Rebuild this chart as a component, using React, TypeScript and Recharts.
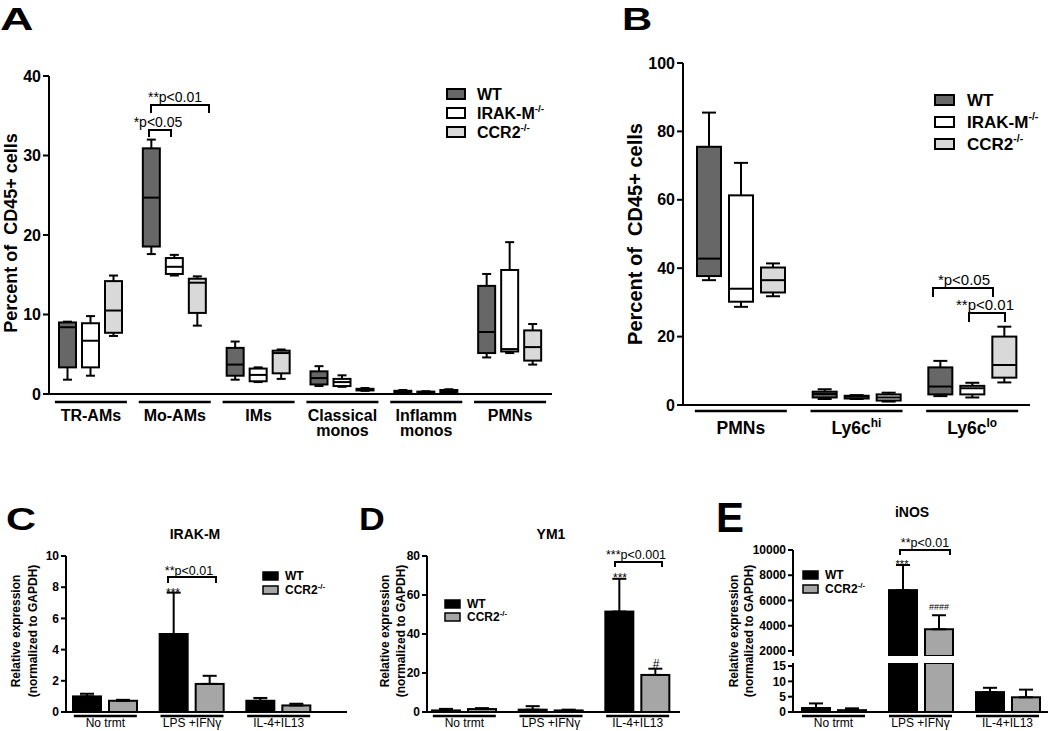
import React from 'react';
import { BarChart, Bar, XAxis, YAxis, ErrorBar } from 'recharts';

const FONT = '"Liberation Sans", Arial, Helvetica, sans-serif';

// ---- Panel A: percent of CD45+ cells, box plots [min, q1, median, q3, max]
const groupsA = ['TR-AMs', 'Mo-AMs', 'IMs', 'Classical\nmonos', 'Inflamm\nmonos', 'PMNs'];
const wtA = [
  [1.8, 3.35, 8.4, 9.0, 9.1],
  [17.6, 18.55, 24.7, 30.9, 32.0],
  [1.8, 2.3, 3.7, 5.8, 6.6],
  [1.0, 1.2, 2.0, 2.85, 3.5],
  [0.15, 0.2, 0.3, 0.4, 0.5],
  [4.6, 5.15, 7.8, 13.6, 15.1],
];
const irakA = [
  [2.3, 3.35, 6.7, 8.9, 9.8],
  [14.9, 15.1, 16.0, 17.1, 17.5],
  [1.5, 1.6, 2.4, 3.2, 3.35],
  [0.9, 1.0, 1.5, 1.9, 2.35],
  [0.1, 0.15, 0.2, 0.3, 0.35],
  [5.15, 5.35, 5.65, 15.6, 19.1],
];
const ccr2A = [
  [7.3, 7.7, 10.5, 14.2, 14.9],
  [8.6, 10.2, 14.0, 14.5, 14.8],
  [1.9, 2.6, 5.15, 5.45, 5.6],
  [0.4, 0.45, 0.6, 0.65, 0.75],
  [0.15, 0.2, 0.3, 0.5, 0.6],
  [3.7, 4.2, 5.9, 8.0, 8.8],
];
const ticksA = [0, 10, 20, 30, 40];

// ---- Panel B
const groupsB = ['PMNs', 'Ly6c^hi', 'Ly6c^lo'];
const wtB = [
  [36.5, 37.7, 42.8, 75.5, 85.5],
  [1.75, 2.2, 3.2, 3.9, 4.6],
  [2.6, 3.1, 5.4, 11.0, 12.9],
];
const irakB = [
  [28.7, 30.2, 34.0, 61.3, 70.8],
  [1.75, 1.9, 2.4, 2.7, 2.9],
  [2.2, 3.1, 4.9, 5.6, 6.5],
];
const ccr2B = [
  [31.8, 32.9, 36.5, 40.2, 41.4],
  [1.0, 1.3, 2.2, 3.1, 3.6],
  [6.6, 8.0, 11.7, 20.0, 22.9],
];
const ticksB = [0, 20, 40, 60, 80, 100];

// ---- Panels C-E: relative expression, mean and SD
const treatments = ['No trmt', 'LPS +IFNγ', 'IL-4+IL13'];
const wtC = [1.0, 5.0, 0.72];
const wtCErr = [0.17, 2.65, 0.18];
const ccrC = [0.72, 1.8, 0.42];
const ccrCErr = [0.06, 0.52, 0.11];
const ticksC = [0, 2, 4, 6, 8, 10];

const wtD = [0.8, 1.2, 51.5];
const wtDErr = [0.8, 1.8, 16.8];
const ccrD = [1.5, 0.8, 19.0];
const ccrDErr = [0.5, 0.4, 3.2];
const ticksD = [0, 20, 40, 60, 80];

const wtE = [1.3, 6820, 6.5];
const wtEErr = [1.5, 1990, 1.4];
const ccrE = [0.6, 3720, 4.8];
const ccrEErr = [0.6, 1110, 2.5];
const ticksEHigh = [2000, 4000, 6000, 8000, 10000];
const ticksELow = [0, 5, 10, 15];
const E_LOW_MAX = 16;
const E_HIGH_MIN = 1600;

const rowsA = groupsA.map((cat, i) => ({ cat, wt: wtA[i], irak: irakA[i], ccr2: ccr2A[i] }));
const rowsB = groupsB.map((cat, i) => ({ cat, wt: wtB[i], irak: irakB[i], ccr2: ccr2B[i] }));
const rowsC = treatments.map((cat, i) => ({
  cat, wt: wtC[i], ccr: ccrC[i], wtErr: [0, wtCErr[i]], ccrErr: [0, ccrCErr[i]],
}));
const rowsD = treatments.map((cat, i) => ({
  cat, wt: wtD[i], ccr: ccrD[i], wtErr: [0, wtDErr[i]], ccrErr: [0, ccrDErr[i]],
}));
const rowsELow = treatments.map((cat, i) => ({
  cat,
  wt: Math.min(wtE[i], E_LOW_MAX),
  ccr: Math.min(ccrE[i], E_LOW_MAX),
  wtErr: wtE[i] > E_LOW_MAX ? null : [0, wtEErr[i]],
  ccrErr: ccrE[i] > E_LOW_MAX ? null : [0, ccrEErr[i]],
}));
const rowsEHigh = treatments.map((cat, i) => ({
  cat,
  wt: wtE[i] > E_HIGH_MIN ? wtE[i] : null,
  ccr: ccrE[i] > E_HIGH_MIN ? ccrE[i] : null,
  wtErr: wtE[i] > E_HIGH_MIN ? [0, wtEErr[i]] : null,
  ccrErr: ccrE[i] > E_HIGH_MIN ? [0, ccrEErr[i]] : null,
}));

const WT_BOX = '#676767';
const IRAK_BOX = '#ffffff';
const CCR2_BOX = '#d9d9d9';
const WT_BAR = '#000000';
const CCR2_BAR = '#a6a6a6';

const axisStyle = { stroke: '#000', strokeWidth: 2 };

const boxShape = (key: string, fill: string, cap: number) => (p: any) => {
  const s = p.payload && p.payload[key];
  if (!s) return <g />;
  const [mn, q1, md, q3, mx] = s;
  const top = Math.min(p.y, p.y + p.height);
  const h = Math.abs(p.height);
  const k = mx === mn ? 0 : h / (mx - mn);
  const Y = (v: number) => top + (mx - v) * k;
  const cx = p.x + p.width / 2;
  const st = { stroke: '#000', strokeWidth: 2 };
  return (
    <g>
      <line x1={cx} x2={cx} y1={Y(mx)} y2={Y(mn)} {...st} />
      <line x1={cx - cap} x2={cx + cap} y1={Y(mx)} y2={Y(mx)} {...st} />
      <line x1={cx - cap} x2={cx + cap} y1={Y(mn)} y2={Y(mn)} {...st} />
      <rect x={p.x} y={Y(q3)} width={p.width} height={Math.max(Y(q1) - Y(q3), 1)} fill={fill} {...st} />
      <line x1={p.x} x2={p.x + p.width} y1={Y(md)} y2={Y(md)} {...st} />
    </g>
  );
};

const barShape = (key: string, fill: string) => (p: any) => {
  if (!p.payload || p.payload[key] == null || !(p.height > 0)) return <g />;
  return <rect x={p.x} y={p.y} width={p.width} height={p.height} fill={fill} stroke="#000" strokeWidth={2} />;
};

const CategoryTick = (props: any) => {
  const { x, payload, axisY, lineW, lineDy, size, weight, firstDy, lineGap } = props;
  const [main, sup] = String(payload.value).split('^');
  const lines = main.split('\n');
  return (
    <g>
      <line x1={x - lineW / 2} x2={x + lineW / 2} y1={axisY + lineDy} y2={axisY + lineDy} stroke="#000" strokeWidth={2.5} />
      {lines.map((l: string, i: number) => (
        <text key={i} x={x} y={axisY + firstDy + i * lineGap} textAnchor="middle" fontFamily={FONT}
          fontSize={size} fontWeight={weight} fill="#000">
          {l}
          {sup && i === lines.length - 1 ? <tspan fontSize={size * 0.68} dy={-size * 0.42}>{sup}</tspan> : null}
        </text>
      ))}
    </g>
  );
};

const yTick = (size: number) => ({ fill: '#000', fontSize: size, fontWeight: 'bold', fontFamily: FONT });

const Sup = ({ children, size, dy }: any) => <tspan fontSize={size} dy={dy}>{children}</tspan>;

const Legend3 = ({ x, ys, tx, size, w, h }: any) => {
  const items = [
    { fill: WT_BOX, label: 'WT', sup: '' },
    { fill: IRAK_BOX, label: 'IRAK-M', sup: '-/-' },
    { fill: CCR2_BOX, label: 'CCR2', sup: '-/-' },
  ];
  return (
    <g>
      {items.map((it, i) => (
        <g key={it.label}>
          <rect x={x} y={ys[i] - h - 1} width={w} height={h} fill={it.fill} stroke="#000" strokeWidth={2} />
          <text x={tx} y={ys[i]} fontSize={size} fontWeight="bold">
            {it.label}
            {it.sup ? <Sup size={size * 0.62} dy={-size * 0.45}>{it.sup}</Sup> : null}
          </text>
        </g>
      ))}
    </g>
  );
};

const Legend2 = ({ x, ys, tx }: any) => (
  <g>
    <rect x={x} y={ys[0] - 8} width={15} height={8} fill={WT_BAR} stroke="#000" strokeWidth={1.5} />
    <text x={tx} y={ys[0]} fontSize={12} fontWeight="bold">WT</text>
    <rect x={x} y={ys[1] - 8} width={15} height={8} fill={CCR2_BAR} stroke="#000" strokeWidth={1.5} />
    <text x={tx} y={ys[1]} fontSize={12} fontWeight="bold">
      CCR2<Sup size={8} dy={-5}>-/-</Sup>
    </text>
  </g>
);

const Bracket = ({ x1, x2, y, drop, label, tx, ty, size }: any) => (
  <g>
    <path d={`M${x1} ${y + drop} V${y} H${x2} V${y + drop}`} fill="none" stroke="#000" strokeWidth={2} />
    <text x={tx} y={ty} fontSize={size} textAnchor="middle">{label}</text>
  </g>
);

const Overlay = () => (
  <svg width={1050} height={731} style={{ position: 'absolute', left: 0, top: 0, pointerEvents: 'none' }}
    fontFamily={FONT} fill="#000">
    {/* panel letters */}
    <text transform="translate(0,30) scale(1.45,1)" fontSize={32} fontWeight="bold">A</text>
    <text transform="translate(622,30) scale(1.35,1)" fontSize={31} fontWeight="bold">B</text>
    <text transform="translate(6,530) scale(1.3,1)" fontSize={32} fontWeight="bold">C</text>
    <text transform="translate(359,530) scale(1.15,1)" fontSize={31} fontWeight="bold">D</text>
    <text x={716} y={532} fontSize={42} fontWeight="bold">E</text>

    {/* titles */}
    <text x={195} y={539} fontSize={14} fontWeight="bold" textAnchor="middle">IRAK-M</text>
    <text x={551} y={539} fontSize={14} fontWeight="bold" textAnchor="middle">YM1</text>
    <text x={912} y={517} fontSize={14} fontWeight="bold" textAnchor="middle">iNOS</text>

    {/* y axis titles */}
    <text transform="translate(17,233) rotate(-90)" fontSize={18} fontWeight="bold" textAnchor="middle"
      style={{ whiteSpace: 'pre' }}>Percent of  CD45+ cells</text>
    <text transform="translate(642,234) rotate(-90)" fontSize={20} fontWeight="bold" textAnchor="middle"
      style={{ whiteSpace: 'pre' }}>Percent of  CD45+ cells</text>
    {[[20, 37], [389, 405], [738, 753]].map(([a, b], i) => (
      <g key={i}>
        <text transform={`translate(${a},631) rotate(-90)`} fontSize={12} fontWeight="bold" textAnchor="middle">Relative expression</text>
        <text transform={`translate(${b},631) rotate(-90)`} fontSize={12} fontWeight="bold" textAnchor="middle">(normalized to GAPDH)</text>
      </g>
    ))}

    {/* legends */}
    <Legend3 x={447} ys={[100, 119, 138]} tx={477} size={16} w={18} h={10} />
    <Legend3 x={935} ys={[106, 128, 150]} tx={967} size={17} w={19} h={10} />
    <Legend2 x={263} ys={[580, 594]} tx={285} />
    <Legend2 x={445} ys={[608, 621]} tx={467} />
    <Legend2 x={803} ys={[579, 593]} tx={825} />

    {/* significance */}
    <Bracket x1={149} x2={171} y={130} drop={7} label="*p<0.05" tx={158} ty={127} size={14} />
    <Bracket x1={151} x2={209} y={105} drop={8} label="**p<0.01" tx={175} ty={102} size={14} />
    <Bracket x1={933} x2={993} y={288} drop={9} label="*p<0.05" tx={964} ty={285} size={15} />
    <Bracket x1={969} x2={1005} y={313} drop={9} label="**p<0.01" tx={985} ty={310} size={15} />
    <Bracket x1={168} x2={216} y={577} drop={6} label="**p<0.01" tx={189} ty={575} size={12.5} />
    <Bracket x1={615} x2={662} y={562} drop={5} label="***p<0.001" tx={636} ty={559} size={12.5} />
    <Bracket x1={900} x2={950} y={550} drop={5} label="**p<0.01" tx={925} ty={547} size={12.5} />
    <text x={173} y={597} fontSize={12} textAnchor="middle">***</text>
    <text x={620} y={582} fontSize={12} textAnchor="middle">***</text>
    <text x={656} y={668} fontSize={12} textAnchor="middle">#</text>
    <text x={902} y={568} fontSize={11} textAnchor="middle">***</text>
    <text x={939} y={610} fontSize={9} textAnchor="middle">####</text>
  </svg>
);

export default function App() {
  const tickA = (p: any) => (
    <CategoryTick {...p} axisY={394} lineW={72} lineDy={8} size={16} weight="bold" firstDy={27} lineGap={15} />
  );
  const tickB = (p: any) => (
    <CategoryTick {...p} axisY={405} lineW={92} lineDy={6} size={17.5} weight="bold" firstDy={29} lineGap={16} />
  );
  const tickSmall = (p: any) => (
    <CategoryTick {...p} axisY={232} lineW={63} lineDy={4} size={12} weight="normal" firstDy={15} lineGap={14} />
  );

  return (
    <div style={{ position: 'absolute', left: 0, top: 0, width: 1050, height: 731, background: '#fff', overflow: 'hidden', fontFamily: FONT }}>
      {/* A */}
      <div style={{ position: 'absolute', left: 0, top: 0 }}>
        <BarChart width={560} height={450} data={rowsA} margin={{ top: 76, right: 8, bottom: 0, left: 0 }} barGap={6}>
          <XAxis dataKey="cat" interval={0} height={56} axisLine={axisStyle} tickLine={false} tick={tickA} />
          <YAxis domain={[0, 40]} ticks={ticksA} interval={0} width={49} axisLine={axisStyle} tickLine={axisStyle} tickSize={6}
            tick={yTick(16)} />
          <Bar dataKey={(r: any) => [r.wt[0], r.wt[4]]} barSize={17} shape={boxShape('wt', WT_BOX, 4.5)} isAnimationActive={false} />
          <Bar dataKey={(r: any) => [r.irak[0], r.irak[4]]} barSize={17} shape={boxShape('irak', IRAK_BOX, 4.5)} isAnimationActive={false} />
          <Bar dataKey={(r: any) => [r.ccr2[0], r.ccr2[4]]} barSize={17} shape={boxShape('ccr2', CCR2_BOX, 4.5)} isAnimationActive={false} />
        </BarChart>
      </div>

      {/* B */}
      <div style={{ position: 'absolute', left: 620, top: 0 }}>
        <BarChart width={420} height={450} data={rowsB} margin={{ top: 63, right: 10, bottom: 0, left: 0 }} barGap={8}>
          <XAxis dataKey="cat" interval={0} height={45} axisLine={axisStyle} tickLine={false} tick={tickB} />
          <YAxis domain={[0, 100]} ticks={ticksB} interval={0} width={63} axisLine={axisStyle} tickLine={axisStyle} tickSize={6}
            tick={yTick(16)} />
          <Bar dataKey={(r: any) => [r.wt[0], r.wt[4]]} barSize={24} shape={boxShape('wt', WT_BOX, 7)} isAnimationActive={false} />
          <Bar dataKey={(r: any) => [r.irak[0], r.irak[4]]} barSize={24} shape={boxShape('irak', IRAK_BOX, 7)} isAnimationActive={false} />
          <Bar dataKey={(r: any) => [r.ccr2[0], r.ccr2[4]]} barSize={24} shape={boxShape('ccr2', CCR2_BOX, 7)} isAnimationActive={false} />
        </BarChart>
      </div>

      {/* C */}
      <div style={{ position: 'absolute', left: 0, top: 480 }}>
        <BarChart width={350} height={251} data={rowsC} margin={{ top: 76, right: 3, bottom: 0, left: 0 }} barGap={8}>
          <XAxis dataKey="cat" interval={0} height={19} axisLine={axisStyle} tickLine={false} tick={tickSmall}
            padding={{ left: -4, right: 25 }} />
          <YAxis domain={[0, 10]} ticks={ticksC} interval={0} width={66} axisLine={axisStyle} tickLine={axisStyle} tickSize={5}
            tick={yTick(12)} />
          <Bar dataKey="wt" barSize={28} shape={barShape('wt', WT_BAR)} isAnimationActive={false}>
            <ErrorBar dataKey="wtErr" width={7} stroke="#000" strokeWidth={2} direction="y" />
          </Bar>
          <Bar dataKey="ccr" barSize={28} shape={barShape('ccr', CCR2_BAR)} isAnimationActive={false}>
            <ErrorBar dataKey="ccrErr" width={7} stroke="#000" strokeWidth={2} direction="y" />
          </Bar>
        </BarChart>
      </div>

      {/* D */}
      <div style={{ position: 'absolute', left: 350, top: 480 }}>
        <BarChart width={350} height={251} data={rowsD} margin={{ top: 76, right: 20, bottom: 0, left: 0 }} barGap={8}>
          <XAxis dataKey="cat" interval={0} height={19} axisLine={axisStyle} tickLine={false} tick={tickSmall}
            padding={{ left: -6, right: -1 }} />
          <YAxis domain={[0, 80]} ticks={ticksD} interval={0} width={77} axisLine={axisStyle} tickLine={axisStyle} tickSize={5}
            tick={yTick(12)} />
          <Bar dataKey="wt" barSize={28} shape={barShape('wt', WT_BAR)} isAnimationActive={false}>
            <ErrorBar dataKey="wtErr" width={7} stroke="#000" strokeWidth={2} direction="y" />
          </Bar>
          <Bar dataKey="ccr" barSize={28} shape={barShape('ccr', CCR2_BAR)} isAnimationActive={false}>
            <ErrorBar dataKey="ccrErr" width={7} stroke="#000" strokeWidth={2} direction="y" />
          </Bar>
        </BarChart>
      </div>

      {/* E, upper segment of the broken axis */}
      <div style={{ position: 'absolute', left: 700, top: 480 }}>
        <BarChart width={350} height={180} data={rowsEHigh} margin={{ top: 70, right: 2, bottom: 4, left: 0 }} barGap={8}>
          <XAxis dataKey="cat" hide height={0} padding={{ left: -3, right: -3 }} />
          <YAxis domain={[E_HIGH_MIN, 10000]} ticks={ticksEHigh} interval={0} width={93} allowDataOverflow axisLine={axisStyle}
            tickLine={axisStyle} tickSize={5} tick={yTick(12)} />
          <Bar dataKey="wt" barSize={28} shape={barShape('wt', WT_BAR)} isAnimationActive={false}>
            <ErrorBar dataKey="wtErr" width={7} stroke="#000" strokeWidth={2} direction="y" />
          </Bar>
          <Bar dataKey="ccr" barSize={28} shape={barShape('ccr', CCR2_BAR)} isAnimationActive={false}>
            <ErrorBar dataKey="ccrErr" width={7} stroke="#000" strokeWidth={2} direction="y" />
          </Bar>
        </BarChart>
      </div>

      {/* E, lower segment */}
      <div style={{ position: 'absolute', left: 700, top: 480 }}>
        <BarChart width={350} height={251} data={rowsELow} margin={{ top: 183, right: 2, bottom: 0, left: 0 }} barGap={8}>
          <XAxis dataKey="cat" interval={0} height={19} axisLine={axisStyle} tickLine={false} tick={tickSmall}
            padding={{ left: -3, right: -3 }} />
          <YAxis domain={[0, E_LOW_MAX]} ticks={ticksELow} interval={0} width={93} allowDataOverflow axisLine={axisStyle}
            tickLine={axisStyle} tickSize={5} tick={yTick(12)} />
          <Bar dataKey="wt" barSize={28} shape={barShape('wt', WT_BAR)} isAnimationActive={false}>
            <ErrorBar dataKey="wtErr" width={7} stroke="#000" strokeWidth={2} direction="y" />
          </Bar>
          <Bar dataKey="ccr" barSize={28} shape={barShape('ccr', CCR2_BAR)} isAnimationActive={false}>
            <ErrorBar dataKey="ccrErr" width={7} stroke="#000" strokeWidth={2} direction="y" />
          </Bar>
        </BarChart>
      </div>

      <Overlay />
    </div>
  );
}
